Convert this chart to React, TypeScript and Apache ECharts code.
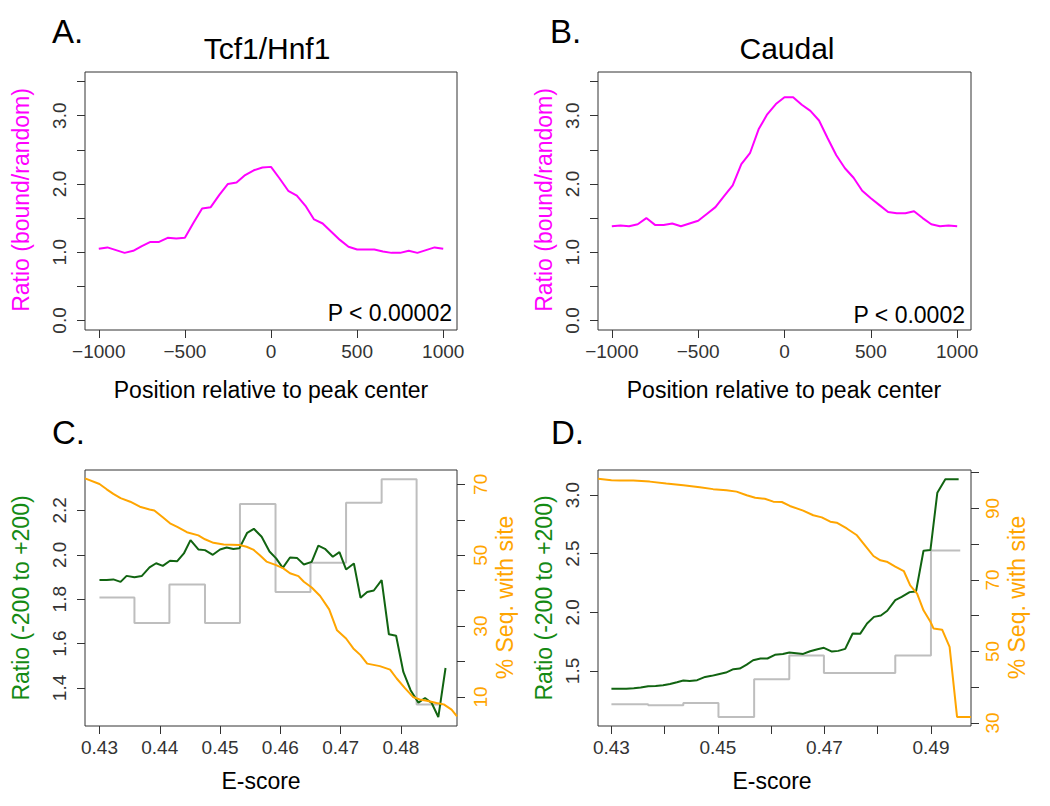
import React, { useEffect, useRef } from "react";
import * as echarts from "echarts";

// ---------- Data ----------
const positions = [
  -1000, -950, -900, -850, -800, -750, -700, -650, -600, -550, -500, -450, -400, -350, -300, -250, -200, -150, -100, -50,
  0, 50, 100, 150, 200, 250, 300, 350, 400, 450, 500, 550, 600, 650, 700, 750, 800, 850, 900, 950, 1000,
];
const ratioTcf = [
  1.05, 1.07, 1.03, 0.99, 1.02, 1.09, 1.15, 1.15, 1.21, 1.2, 1.21, 1.43, 1.64, 1.66, 1.84, 2.0, 2.02, 2.13, 2.2, 2.24,
  2.25, 2.08, 1.9, 1.83, 1.68, 1.48, 1.42, 1.3, 1.18, 1.08, 1.04, 1.04, 1.04, 1.01, 0.99, 0.99, 1.02, 0.99, 1.03, 1.07, 1.05,
];
const ratioCaudal = [
  1.38, 1.39, 1.38, 1.41, 1.5, 1.4, 1.4, 1.42, 1.38, 1.42, 1.46, 1.56, 1.66, 1.82, 1.98, 2.29, 2.45, 2.8, 3.02, 3.17,
  3.27, 3.27, 3.16, 3.07, 2.93, 2.67, 2.42, 2.23, 2.09, 1.9, 1.79, 1.69, 1.59, 1.57, 1.57, 1.6, 1.5, 1.41, 1.38, 1.39, 1.38,
];

// Panel C (Tcf1/Hnf1 E-score)
const escoreC = [
  0.43, 0.4312, 0.4323, 0.4335, 0.4345, 0.4358, 0.437, 0.4383, 0.4394, 0.4405, 0.4417, 0.4429, 0.444, 0.4451, 0.4464,
  0.4475, 0.4488, 0.45, 0.4511, 0.4522, 0.4532, 0.4545, 0.4556, 0.4569, 0.4582, 0.4593, 0.4604, 0.4616, 0.4628, 0.4639,
  0.4652, 0.4663, 0.4674, 0.4687, 0.4698, 0.4709, 0.4722, 0.4733, 0.4744, 0.4755, 0.4768, 0.478, 0.4792, 0.4804, 0.4816,
  0.4829, 0.484, 0.4851, 0.4862, 0.4874,
];
const ratioC = [
  1.886, 1.886, 1.889, 1.878, 1.905, 1.899, 1.904, 1.943, 1.962, 1.95, 1.973, 1.971, 2.006, 2.066, 2.024, 2.021, 2.0,
  2.024, 2.033, 2.026, 2.029, 2.099, 2.117, 2.081, 2.015, 1.984, 1.941, 1.988, 1.985, 1.956, 1.968, 2.041, 2.027, 1.991,
  2.012, 1.934, 1.961, 1.806, 1.832, 1.839, 1.886, 1.642, 1.635, 1.472, 1.39, 1.334, 1.355, 1.332, 1.269, 1.49,
];
const binStartC = [0.43, 0.4358, 0.4416, 0.4475, 0.4533, 0.4592, 0.465, 0.4709, 0.4768, 0.4826, 0.4869];
const binRatioC = [1.808, 1.693, 1.866, 1.693, 2.229, 1.832, 1.964, 2.235, 2.34, 1.325, 1.325];
const escoreSeqC = [
  0.4276, 0.43, 0.4312, 0.4323, 0.4335, 0.4351, 0.4367, 0.4383, 0.4391, 0.4405, 0.4417, 0.4429, 0.4445, 0.4464, 0.4475,
  0.4489, 0.4506, 0.4532, 0.4544, 0.4555, 0.4566, 0.4577, 0.4593, 0.4605, 0.4616, 0.463, 0.4639, 0.4652, 0.4666, 0.4681,
  0.4694, 0.4709, 0.4721, 0.4733, 0.4744, 0.4765, 0.4782, 0.4793, 0.4807, 0.482, 0.4831, 0.4843, 0.4859, 0.4871, 0.4884,
  0.4893,
];
const pctSeqC = [
  71.7, 70.1, 68.6, 67.3, 66.1, 65.1, 63.7, 62.9, 62.6, 60.7, 59.0, 58.0, 56.5, 55.6, 54.5, 53.5, 53.0, 52.9, 52.4, 51.6,
  50.0, 48.2, 47.2, 46.3, 44.9, 44.1, 42.5, 40.9, 38.5, 34.7, 28.8, 26.5, 23.7, 21.8, 19.4, 18.7, 17.7, 15.2, 12.4, 10.0,
  9.3, 8.9, 8.3, 7.9, 6.4, 4.5,
];

// Panel D (Caudal E-score)
const escoreD = [
  0.43, 0.4314, 0.4328, 0.4342, 0.4355, 0.4369, 0.4383, 0.4397, 0.441, 0.4423, 0.4435, 0.4447, 0.4461, 0.4476, 0.4488,
  0.4501, 0.4515, 0.4529, 0.4541, 0.4554, 0.4566, 0.458, 0.4593, 0.4607, 0.4622, 0.4634, 0.4647, 0.466, 0.4673, 0.4687,
  0.4699, 0.4714, 0.4726, 0.4739, 0.4753, 0.4767, 0.478, 0.4793, 0.4806, 0.4818, 0.4833, 0.4845, 0.486, 0.4872, 0.4886,
  0.4899, 0.4912, 0.4927, 0.4939, 0.4952,
];
const ratioD = [
  1.349, 1.349, 1.347, 1.352, 1.358, 1.369, 1.372, 1.378, 1.389, 1.404, 1.418, 1.415, 1.421, 1.449, 1.458, 1.472, 1.486,
  1.515, 1.52, 1.554, 1.591, 1.606, 1.606, 1.637, 1.645, 1.657, 1.651, 1.645, 1.668, 1.685, 1.697, 1.665, 1.671, 1.688,
  1.819, 1.816, 1.905, 1.961, 1.973, 2.013, 2.104, 2.132, 2.172, 2.178, 2.525, 2.531, 3.02, 3.134, 3.134, 3.134,
];
const binStartD = [0.43, 0.4369, 0.4435, 0.4501, 0.4568, 0.4634, 0.4699, 0.4766, 0.4833, 0.49, 0.4955];
const binRatioD = [1.216, 1.207, 1.227, 1.107, 1.429, 1.631, 1.483, 1.483, 1.631, 2.528, 2.528];
const escoreSeqD = [
  0.4275, 0.43, 0.4316, 0.4341, 0.4372, 0.4403, 0.4435, 0.4466, 0.4491, 0.4516, 0.4535, 0.4554, 0.457, 0.4588, 0.4604,
  0.462, 0.4635, 0.466, 0.4679, 0.4695, 0.4711, 0.4723, 0.4742, 0.4761, 0.4776, 0.4792, 0.4805, 0.4817, 0.4833, 0.4849,
  0.4861, 0.4874, 0.4886, 0.4899, 0.4905, 0.4921, 0.4935, 0.4949, 0.4975,
];
const pctSeqD = [
  98.3, 97.9, 97.8, 97.8, 97.5, 97.0, 96.5, 95.9, 95.4, 95.1, 94.7, 93.7, 93.0, 92.7, 91.9, 91.8, 90.7, 89.4, 88.1, 87.5,
  86.3, 86.0, 84.4, 82.5, 79.7, 76.7, 75.5, 75.1, 73.7, 72.5, 68.5, 66.2, 61.5, 58.3, 56.4, 56.1, 51.3, 31.7, 31.7,
];

// ---------- Tick values ----------
const posTicks = [-1000, -500, 0, 500, 1000];
const ratioTicksAB = [0, 0.5, 1, 1.5, 2, 2.5, 3, 3.5];
const ratioLabelsAB = [0, 1, 2, 3];
const escoreTicksC = [0.43, 0.44, 0.45, 0.46, 0.47, 0.48];
const ratioTicksC = [1.4, 1.6, 1.8, 2.0, 2.2];
const pctTicksC = [10, 20, 30, 40, 50, 60, 70];
const pctLabelsC = [10, 30, 50, 70];
const escoreTicksD = [0.43, 0.44, 0.45, 0.46, 0.47, 0.48, 0.49];
const escoreLabelsD = [0.43, 0.45, 0.47, 0.49];
const ratioTicksD = [1.5, 2.0, 2.5, 3.0];
const pctTicksD = [30, 40, 50, 60, 70, 80, 90, 100];
const pctLabelsD = [30, 50, 70, 90];

// ---------- Styles ----------
const FONT = "'Liberation Sans', Arial, Helvetica, sans-serif";
const MAGENTA = "#FF00FF";
const GREEN_LINE = "#116411";
const GREEN_TEXT = "#148a14";
const ORANGE = "#FFA500";
const GRAY = "#BEBEBE";
const INK = "#333333";

const zip = (xs: number[], ys: number[]) => xs.map((x, i) => [x, ys[i]]);

function axis(
  gridIndex: number,
  min: number,
  max: number,
  ticks: number[],
  labels: number[],
  fmt: (v: number) => string,
  margin: number,
  extra: any = {},
  labelColor = INK
) {
  return {
    type: "value",
    gridIndex,
    min,
    max,
    axisLine: { show: false, onZero: false },
    splitLine: { show: false },
    axisTick: { show: true, customValues: ticks, length: 8, lineStyle: { color: INK, width: 1 } },
    axisLabel: {
      customValues: labels,
      formatter: fmt,
      margin,
      fontSize: 19,
      color: labelColor,
      fontFamily: FONT,
      ...(extra.rotate ? { rotate: extra.rotate } : {}),
    },
    ...(extra.position ? { position: extra.position } : {}),
  };
}

const fmtPos = (v: number) => (v < 0 ? "\u2212" + Math.abs(v) : String(v));
const fmt1 = (v: number) => v.toFixed(1);
const fmt2 = (v: number) => v.toFixed(2);
const fmt0 = (v: number) => String(Math.round(v));

function txt(text: string, x: number, y: number, size: number, align: string, color = "#000", rotate = false) {
  return {
    type: "text",
    x,
    y,
    rotation: rotate ? Math.PI / 2 : 0,
    silent: true,
    style: {
      text,
      fill: color,
      fontSize: size,
      fontFamily: FONT,
      align,
      verticalAlign: "middle",
    },
  };
}

export default function App() {
  const ref = useRef<HTMLDivElement>(null);

  useEffect(() => {
    if (!ref.current) return;
    const chart = echarts.init(ref.current, null, { renderer: "svg" });

    const gridBase = { show: true, borderColor: INK, borderWidth: 1, backgroundColor: "transparent", containLabel: false, outerBoundsMode: "none" };

    const option: any = {
      animation: false,
      backgroundColor: "#ffffff",
      textStyle: { fontFamily: FONT },
      grid: [
        { ...gridBase, left: 85, top: 72, width: 372, height: 258 },
        { ...gridBase, left: 598, top: 72, width: 373, height: 258 },
        { ...gridBase, left: 85, top: 470, width: 372, height: 256 },
        { ...gridBase, left: 598, top: 470, width: 373, height: 256 },
      ],
      xAxis: [
        axis(0, -1080, 1080, posTicks, posTicks, fmtPos, 12),
        axis(1, -1080, 1080, posTicks, posTicks, fmtPos, 12),
        axis(2, 0.4276, 0.4893, escoreTicksC, escoreTicksC, fmt2, 12),
        axis(3, 0.42748, 0.49752, escoreTicksD, escoreLabelsD, fmt2, 12),
      ],
      yAxis: [
        axis(0, -0.14, 3.64, ratioTicksAB, ratioLabelsAB, fmt1, 16, { rotate: 90 }),
        axis(1, -0.14, 3.64, ratioTicksAB, ratioLabelsAB, fmt1, 16, { rotate: 90 }),
        axis(2, 1.2286, 2.382, ratioTicksC, ratioTicksC, fmt1, 16, { rotate: 90 }),
        axis(2, 1.8, 74.05, pctTicksC, pctLabelsC, fmt0, 14, { rotate: 90, position: "right" }, ORANGE),
        axis(3, 1.0303, 3.2135, ratioTicksD, ratioTicksD, fmt1, 16, { rotate: 90 }),
        axis(3, 29.16, 100.75, pctTicksD, pctLabelsD, fmt0, 12, { rotate: 90, position: "right" }, ORANGE),
      ],
      series: [
        { type: "line", xAxisIndex: 0, yAxisIndex: 0, data: zip(positions, ratioTcf), showSymbol: false, symbol: "none", lineStyle: { color: MAGENTA, width: 2 } },
        { type: "line", xAxisIndex: 1, yAxisIndex: 1, data: zip(positions, ratioCaudal), showSymbol: false, symbol: "none", lineStyle: { color: MAGENTA, width: 2 } },
        { type: "line", xAxisIndex: 2, yAxisIndex: 2, data: zip(binStartC, binRatioC), step: "end", showSymbol: false, symbol: "none", lineStyle: { color: GRAY, width: 2 } },
        { type: "line", xAxisIndex: 2, yAxisIndex: 2, data: zip(escoreC, ratioC), showSymbol: false, symbol: "none", lineStyle: { color: GREEN_LINE, width: 2 } },
        { type: "line", xAxisIndex: 2, yAxisIndex: 3, data: zip(escoreSeqC, pctSeqC), showSymbol: false, symbol: "none", lineStyle: { color: ORANGE, width: 2 } },
        { type: "line", xAxisIndex: 3, yAxisIndex: 4, data: zip(binStartD, binRatioD), step: "end", showSymbol: false, symbol: "none", lineStyle: { color: GRAY, width: 2 } },
        { type: "line", xAxisIndex: 3, yAxisIndex: 4, data: zip(escoreD, ratioD), showSymbol: false, symbol: "none", lineStyle: { color: GREEN_LINE, width: 2 } },
        { type: "line", xAxisIndex: 3, yAxisIndex: 5, data: zip(escoreSeqD, pctSeqD), showSymbol: false, symbol: "none", lineStyle: { color: ORANGE, width: 2 } },
      ],
      graphic: [
        txt("A.", 52, 31, 33, "left"),
        txt("B.", 550, 31, 33, "left"),
        txt("C.", 52, 432.5, 33, "left"),
        txt("D.", 551, 432.5, 33, "left"),
        txt("Tcf1/Hnf1", 267, 48, 30, "center"),
        txt("Caudal", 787, 48, 30, "center"),
        txt("Position relative to peak center", 271, 390, 23, "center"),
        txt("Position relative to peak center", 784, 390, 23, "center"),
        txt("E-score", 261, 781, 23, "center"),
        txt("E-score", 772, 781, 23, "center"),
        txt("P < 0.00002", 452, 313, 23, "right"),
        txt("P < 0.0002", 965, 314.5, 23, "right"),
        txt("Ratio (bound/random)", 20.5, 200, 23, "center", MAGENTA, true),
        txt("Ratio (bound/random)", 544, 200, 23, "center", MAGENTA, true),
        txt("Ratio (-200 to +200)", 20.5, 598, 23, "center", GREEN_TEXT, true),
        txt("Ratio (-200 to +200)", 544, 598, 23, "center", GREEN_TEXT, true),
        txt("% Seq. with site", 505, 597.5, 23, "center", ORANGE, true),
        txt("% Seq. with site", 1017, 597.5, 23, "center", ORANGE, true),
      ],
    };

    chart.setOption(option);
    return () => chart.dispose();
  }, []);

  return <div ref={ref} style={{ position: "absolute", left: 0, top: 0, width: 1050, height: 806 }} />;
}
